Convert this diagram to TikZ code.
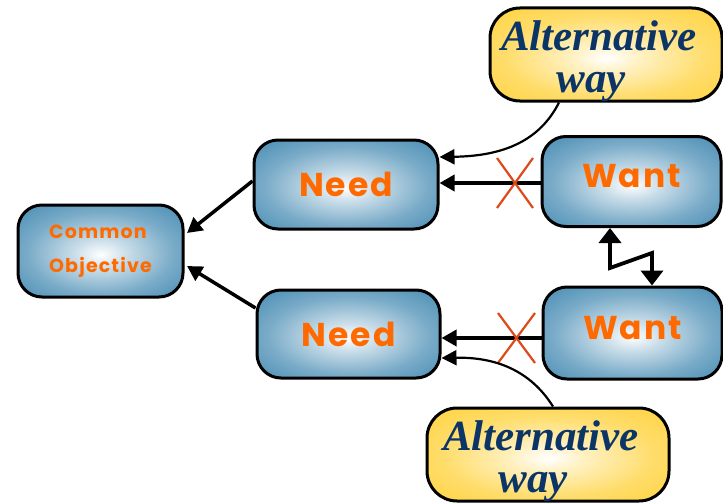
\documentclass[tikz,border=0pt]{standalone}
\usepackage{fontspec}
\setmainfont{Liberation Serif}
\newfontfamily\cardfont{Poppins}[LetterSpace=6]
\usetikzlibrary{arrows.meta,shapes.misc}
\definecolor{boxblue}{HTML}{4E90B6}
\definecolor{boxgold}{HTML}{FFD445}
\definecolor{labelorange}{HTML}{FF6A00}
\definecolor{waynavy}{HTML}{0B3567}
\definecolor{crossred}{HTML}{DD4A1A}
\pgfdeclareradialshading{blueglow}{\pgfpoint{0bp}{-2bp}}{%
  color(0bp)=(white); color(8bp)=(boxblue!30!white); color(22bp)=(boxblue!75!white); color(34bp)=(boxblue); color(50bp)=(boxblue!92!black)}
\pgfdeclareradialshading{goldglow}{\pgfpoint{0bp}{-2bp}}{%
  color(0bp)=(white); color(8bp)=(boxgold!35!white); color(22bp)=(boxgold!80!white); color(34bp)=(boxgold); color(50bp)=(boxgold)}
% two-line caption of the yellow boxes, set a little low and to the left
\newcommand\altcaption{\hspace*{-14pt}\raisebox{-8pt}[\height][\depth]{\begin{tabular}{@{}c@{}}Alternative\\way\hspace*{16pt}\end{tabular}}}
\newcommand\liftedtext[1]{\raisebox{5pt}[\height][\depth]{#1}}
\tikzset{
  card/.style={draw=black, line width=3pt, rounded corners=24pt, shading=blueglow,
    inner sep=0pt, align=center, text=labelorange, font=\cardfont\bfseries},
  bigcard/.style={card, minimum width=#1, font=\cardfont\bfseries\fontsize{33}{35}\selectfont},
  altcard/.style={draw=black, line width=3pt, rounded corners=30pt, shading=goldglow,
    inner sep=0pt, text=waynavy, minimum width=232pt, minimum height=93pt,
    font=\bfseries\itshape\fontsize{43}{42}\selectfont},
  flow/.style={line width=3.5pt, -{Triangle[length=15pt,width=16pt]}},
  curvedflow/.style={line width=2.2pt, -{Triangle[length=15pt,width=15pt]}},
  cross/.style={crossred, line width=2.2pt},
}
\begin{document}
\begin{tikzpicture}[x=1pt,y=-1pt]
\useasboundingbox (0,0) rectangle (723,503);
\begin{scope}
\clip (0,0) rectangle (723,503);
% boxes
\node[card, minimum width=165pt, minimum height=92pt, align=left,
      font=\cardfont\bfseries\fontsize{19}{34}\selectfont] (co) at (100.5,251) {Common\\Objective};
\node[bigcard=184pt, minimum height=89pt] (n1) at (346,184.5) {Need};
\node[bigcard=183pt, minimum height=88pt] (n2) at (348.5,334) {Need};
\node[bigcard=179pt, minimum height=90pt] (w1) at (631.5,181.5) {\liftedtext{Want}};
\node[bigcard=179pt, minimum height=92pt] (w2) at (632.5,333) {\liftedtext{Want}};
\node[altcard] (a1) at (606,54.5) {\altcaption};
\node[altcard, minimum width=242pt] (a2) at (548,454.5) {\altcaption};
\end{scope}
% needs feed the common objective
\coordinate (co1) at (187,233);
\coordinate (co2) at (187,266);
\draw[flow] (n1.west |- 0,181) -- (co1);
\draw[flow] (n2.west |- 0,308) -- (co2);
% wants point at needs, crossed out
\draw[flow] (w1.west |- 0,183) -- (n1.east |- 0,183);
\draw[flow] (w2.west |- 0,338) -- (n2.east |- 0,338);
\draw[cross] (497,158) -- (533,208) (533,158) -- (497,208);
\draw[cross] (498,313) -- (535,363) (535,313) -- (498,363);
% alternative ways
\draw[curvedflow] (a1.south -| 559,0) .. controls (540,140) and (505,156) .. (n1.east |- 0,157);
\draw[curvedflow] (a2.north -| 553,0) .. controls (530,370) and (495,357) .. (n2.east |- 0,358);
% tension between the two wants
\coordinate (z1) at (610,268);
\coordinate (z2) at (652,253);
\draw[line width=3.8pt, {Triangle[length=15pt,width=22pt]}-{Triangle[length=15pt,width=22pt]}, line join=miter]
  (w1.south -| z1) -- (z1) -- (z2) -- (w2.north -| z2);
\end{tikzpicture}
\end{document}
